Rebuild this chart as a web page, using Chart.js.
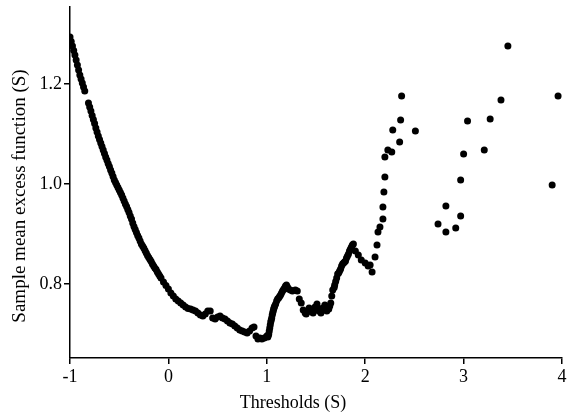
<!DOCTYPE html>
<html>
<head>
<meta charset="utf-8">
<script src="https://cdn.jsdelivr.net/npm/chart.js@4"></script>
<style>
html,body{margin:0;padding:0;background:#fff;}
#wrap{width:568px;height:415px;position:relative;}
</style>
</head>
<body>
<div id="wrap"><canvas id="c"></canvas></div>
<script>
// Thresholds (S) — dense part of the curve
const thresholdsA = [-1.0,-0.975,-0.95,-0.925,-0.9,-0.875,-0.85,-0.8,-0.775,-0.75,-0.725,-0.7,-0.675,-0.65,-0.625,-0.6,-0.575,-0.55,-0.525,-0.5,-0.475,-0.45,-0.425,-0.4,-0.375,-0.35,-0.325,-0.3,-0.275,-0.25,-0.225,-0.2,-0.175,-0.15,-0.125,-0.1,-0.075,-0.05,-0.025,0.0,0.025,0.05,0.075,0.1,0.125,0.15,0.175,0.2,0.225,0.25,0.275,0.3,0.325,0.35,0.375,0.4,0.425,0.45,0.475,0.5,0.525,0.55,0.575,0.6,0.625,0.65,0.675,0.7,0.725,0.75,0.775,0.8,0.825,0.85,0.87,0.89,0.91,0.93,0.95,0.975,1.0];
const meanExcessA = [1.294,1.276,1.258,1.238,1.218,1.202,1.186,1.154,1.137,1.121,1.104,1.089,1.075,1.061,1.048,1.035,1.022,1.008,0.998,0.988,0.978,0.966,0.955,0.943,0.930,0.915,0.903,0.892,0.880,0.872,0.862,0.853,0.845,0.836,0.829,0.820,0.812,0.804,0.797,0.790,0.782,0.776,0.770,0.766,0.762,0.758,0.754,0.751,0.750,0.748,0.746,0.742,0.738,0.736,0.740,0.746,0.746,0.732,0.730,0.734,0.736,0.732,0.730,0.726,0.722,0.720,0.716,0.712,0.708,0.706,0.704,0.702,0.706,0.712,0.714,0.696,0.690,0.692,0.690,0.692,0.696];
// Thresholds (S) — extra readings on the steep left branch
const thresholdsD = [-0.9875,-0.9625,-0.9375,-0.9125,-0.8875,-0.8625,-0.8125,-0.7875,-0.7625,-0.7375,-0.7125,-0.6875,-0.6625,-0.6375,-0.6125,-0.5875,-0.5625,-0.5375,-0.5125,-0.4875,-0.4625,-0.4375,-0.4125,-0.3875,-0.3625,-0.3375,-0.3125,-0.2875,-0.2625,-0.2375,-0.2125,-0.1875,-0.1625,-0.1375,-0.1125,-0.0875];
const meanExcessD = [1.285,1.267,1.248,1.228,1.210,1.194,1.162,1.146,1.129,1.112,1.096,1.082,1.068,1.054,1.041,1.028,1.015,1.003,0.993,0.983,0.972,0.960,0.949,0.936,0.922,0.909,0.897,0.886,0.876,0.867,0.857,0.849,0.840,0.832,0.824,0.816];
// Thresholds (S) — from 1 to about 2.5
const thresholdsB = [1.01,1.02,1.03,1.04,1.05,1.06,1.07,1.08,1.09,1.10,1.12,1.14,1.16,1.18,1.20,1.21,1.22,1.24,1.26,1.29,1.31,1.33,1.35,1.37,1.39,1.41,1.43,1.45,1.47,1.49,1.51,1.53,1.55,1.57,1.59,1.61,1.63,1.65,1.66,1.67,1.69,1.71,1.72,1.74,1.76,1.78,1.80,1.82,1.84,1.86,1.88,1.90,1.93,1.96,2.00,2.03,2.05,2.07,2.10,2.12,2.13,2.15,2.18,2.18,2.19,2.20,2.20,2.23,2.27,2.28,2.35,2.36,2.37,2.51];
const meanExcessB = [0.694,0.700,0.712,0.724,0.732,0.742,0.750,0.756,0.760,0.766,0.772,0.778,0.786,0.792,0.798,0.794,0.790,0.788,0.786,0.788,0.786,0.770,0.762,0.748,0.742,0.744,0.752,0.746,0.742,0.754,0.760,0.746,0.742,0.752,0.758,0.746,0.750,0.762,0.776,0.788,0.798,0.812,0.820,0.826,0.836,0.842,0.846,0.856,0.866,0.874,0.880,0.866,0.858,0.848,0.842,0.836,0.838,0.824,0.854,0.878,0.904,0.914,0.930,0.954,0.984,1.014,1.054,1.068,1.064,1.108,1.084,1.128,1.176,1.106];
// Thresholds (S) — extra readings in the 1 to 1.9 band
const thresholdsE = [1.015,1.025,1.035,1.045,1.055,1.065,1.075,1.11,1.13,1.15,1.17,1.19,1.40,1.44,1.48,1.52,1.56,1.60,1.64,1.685,1.70,1.73,1.75,1.77,1.79,1.81,1.83,1.85,1.87];
const meanExcessE = [0.697,0.706,0.718,0.728,0.738,0.746,0.753,0.770,0.775,0.782,0.789,0.796,0.740,0.748,0.748,0.752,0.748,0.752,0.756,0.793,0.805,0.822,0.830,0.840,0.844,0.852,0.860,0.870,0.878];
// Thresholds (S) — sparse tail
const thresholdsC = [2.74,2.82,2.82,2.92,2.97,2.97,3.00,3.04,3.21,3.27,3.38,3.45,3.90,3.96];
const meanExcessC = [0.920,0.956,0.904,0.912,0.936,1.008,1.060,1.126,1.068,1.130,1.168,1.276,0.998,1.176];

const xTicks = [-1,0,1,2,3,4];
const yTicks = [0.8,1.0,1.2];
const xTitle = 'Thresholds (S)';
const yTitle = 'Sample mean excess function (S)';

const points = [];
[[thresholdsA,meanExcessA],[thresholdsD,meanExcessD],[thresholdsB,meanExcessB],[thresholdsE,meanExcessE],[thresholdsC,meanExcessC]].forEach(([xs,ys])=>{
  xs.forEach((x,i)=>points.push({x:x,y:ys[i]}));
});

const FONT = '"Liberation Serif","DejaVu Serif",serif';

const titlesPlugin = {
  id:'titles',
  afterDraw(chart){
    const ctx = chart.ctx;
    ctx.save();
    ctx.fillStyle = '#000';
    ctx.textAlign = 'center';
    ctx.textBaseline = 'middle';
    ctx.font = '18px ' + FONT;
    ctx.fillText(xTitle, 293, 403);
    ctx.font = '19px ' + FONT;
    ctx.translate(20, 196);
    ctx.rotate(-Math.PI/2);
    ctx.fillText(yTitle, 0, 0);
    ctx.restore();
  }
};

new Chart(document.getElementById('c'), {
  type:'scatter',
  data:{datasets:[{
    data:points,
    backgroundColor:'#000',
    borderColor:'#000',
    borderWidth:0,
    pointRadius:3.5,
    pointHoverRadius:3.5
  }]},
  options:{
    responsive:true,
    maintainAspectRatio:false,
    animation:false,
    events:[],
    layout:{padding:{left:0,right:6,top:7,bottom:0}},
    plugins:{legend:{display:false},tooltip:{enabled:false}},
    scales:{
      x:{
        type:'linear',min:-1,max:4,
        afterBuildTicks(s){ s.ticks = xTicks.map(v=>({value:v})); },
        afterFit(s){ s.height = 57; s.paddingLeft = 0; s.paddingRight = 0; },
        grid:{drawOnChartArea:false,drawTicks:true,tickLength:6,color:'#000',lineWidth:1.5},
        border:{display:true,color:'#000',width:1.5},
        ticks:{color:'#000',font:{family:FONT,size:18},padding:2,maxRotation:0,
          callback:(v)=>String(v)}
      },
      y:{
        type:'linear',min:0.652,max:1.354,
        afterBuildTicks(s){ s.ticks = yTicks.map(v=>({value:v})); },
        afterFit(s){ s.width = 70; s.paddingTop = 0; s.paddingBottom = 0; },
        grid:{drawOnChartArea:false,drawTicks:true,tickLength:6,color:'#000',lineWidth:1.5},
        border:{display:true,color:'#000',width:1.5},
        ticks:{color:'#000',font:{family:FONT,size:18},padding:2,
          callback:(v)=>Number(v).toFixed(1)}
      }
    }
  },
  plugins:[titlesPlugin]
});
</script>
</body>
</html>
